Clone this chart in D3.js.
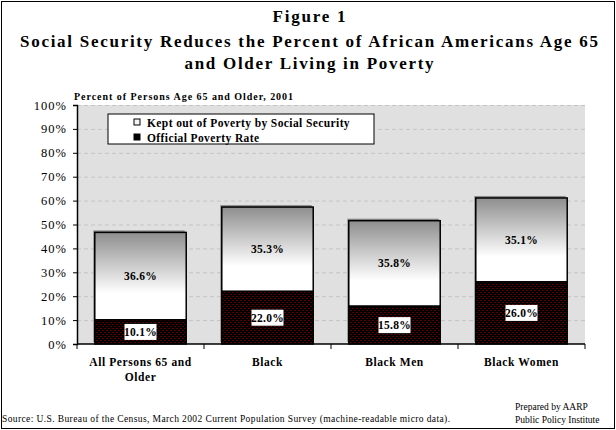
<!DOCTYPE html>
<html>
<head>
<meta charset="utf-8">
<script src="https://cdn.jsdelivr.net/npm/d3@7"></script>
<style>
  body { margin: 0; background: #fff; }
  svg text { font-family: "Liberation Serif", "DejaVu Serif", serif; }
</style>
</head>
<body>
<div id="chart"></div>
<script>
const categories = ['All Persons 65 and Older', 'Black', 'Black Men', 'Black Women']
const categoryLines = [['All Persons 65 and', 'Older'], ['Black'], ['Black Men'], ['Black Women']]
const povertyRate = [10.1, 22.0, 15.8, 26.0]
const keptOut = [36.6, 35.3, 35.8, 35.1]
const yTicks = [0, 10, 20, 30, 40, 50, 60, 70, 80, 90, 100]
const seriesNames = ['Kept out of Poverty by Social Security', 'Official Poverty Rate']

const width = 616, height = 430
const margin = {top: 105, right: 31, bottom: 86, left: 77}

const svg = d3.select('#chart').append('svg')
    .attr('width', width)
    .attr('height', height)

const defs = svg.append('defs')
const grad = defs.append('linearGradient')
    .attr('id', 'keptGrad')
    .attr('x1', 0).attr('y1', 0).attr('x2', 0).attr('y2', 1)
grad.append('stop').attr('offset', '0%').attr('stop-color', '#8e8e8e')
grad.append('stop').attr('offset', '70%').attr('stop-color', '#ffffff')
grad.append('stop').attr('offset', '100%').attr('stop-color', '#ffffff')

const pat = defs.append('pattern')
    .attr('id', 'povPat')
    .attr('patternUnits', 'userSpaceOnUse')
    .attr('width', 4).attr('height', 4)
pat.append('rect').attr('width', 4).attr('height', 4).attr('fill', '#000')
pat.append('rect').attr('x', 0).attr('y', 0).attr('width', 2).attr('height', 1).attr('fill', '#5c0000')
pat.append('rect').attr('x', 2).attr('y', 2).attr('width', 2).attr('height', 1).attr('fill', '#5c0000')

// outer frame
svg.append('rect')
    .attr('x', 1.5).attr('y', 1.5)
    .attr('width', width - 3).attr('height', height - 3)
    .attr('fill', '#fff').attr('stroke', '#000').attr('stroke-width', 1)

// titles
const titleLines = [
    {text: 'Figure 1', y: 22, len: 73},
    {text: 'Social Security Reduces the Percent of African Americans Age 65', y: 47, len: 578},
    {text: 'and Older Living in Poverty', y: 69, len: 249},
]
svg.selectAll('.title').data(titleLines).enter().append('text')
    .attr('class', 'title')
    .attr('x', 309).attr('y', d => d.y)
    .attr('text-anchor', 'middle')
    .attr('font-size', 17).attr('font-weight', 'bold')
    .attr('textLength', d => d.len).attr('lengthAdjust', 'spacing')
    .text(d => d.text)

svg.append('text')
    .attr('x', 74).attr('y', 100)
    .attr('font-size', 10).attr('font-weight', 'bold')
    .attr('textLength', 219).attr('lengthAdjust', 'spacing')
    .text('Percent of Persons Age 65 and Older, 2001')

const plotW = width - margin.left - margin.right
const plotH = height - margin.top - margin.bottom

const x = d3.scaleBand()
    .domain(categories)
    .range([margin.left, margin.left + plotW])
    .paddingInner(0.28)
    .paddingOuter(0.14)
const y = d3.scaleLinear()
    .domain([0, 100])
    .range([margin.top + plotH, margin.top])

svg.append('rect')
    .attr('x', margin.left).attr('y', margin.top)
    .attr('width', plotW).attr('height', plotH)
    .attr('fill', '#e0e0e0')

// dashed gridlines
svg.append('g').selectAll('line').data(yTicks.slice(1)).enter().append('line')
    .attr('x1', margin.left).attr('x2', margin.left + plotW)
    .attr('y1', d => y(d) + 0.5).attr('y2', d => y(d) + 0.5)
    .attr('stroke', '#c4c4c4').attr('stroke-dasharray', '4,3')

// y axis
const yAxis = d3.axisLeft(y)
    .tickValues(yTicks)
    .tickFormat(d => `${d}%`)
    .tickSize(4)
    .tickPadding(6)
svg.append('g')
    .attr('transform', `translate(${margin.left},0)`)
    .call(yAxis)
    .call(g => g.select('.domain').attr('stroke', '#000').attr('stroke-width', 1.5))
    .call(g => g.selectAll('.tick line').attr('stroke', '#000'))
    .call(g => g.selectAll('.tick text')
        .attr('font-family', '"Liberation Serif", serif')
        .attr('font-size', 12.5)
        .attr('letter-spacing', 1)
        .attr('fill', '#000'))

// x axis: ticks sit on category boundaries
const boundaries = d3.range(categories.length + 1).map(i => margin.left + i * x.step())
const xAxisG = svg.append('g')
xAxisG.append('line')
    .attr('x1', margin.left).attr('x2', margin.left + plotW)
    .attr('y1', y(0)).attr('y2', y(0))
    .attr('stroke', '#000').attr('stroke-width', 1.5)
xAxisG.selectAll('.xtick').data(boundaries).enter().append('line')
    .attr('x1', d => d).attr('x2', d => d)
    .attr('y1', y(0)).attr('y2', y(0) + 5)
    .attr('stroke', '#000')
xAxisG.selectAll('.xlab').data(categories).enter().append('text')
    .attr('x', d => x(d) + x.bandwidth() / 2)
    .attr('y', y(0) + 22)
    .attr('text-anchor', 'middle')
    .attr('font-size', 11.5).attr('font-weight', 'bold')
    .attr('letter-spacing', 0.6)
    .selectAll('tspan').data((d, i) => categoryLines[i]).enter().append('tspan')
    .attr('x', function () { return this.parentNode.getAttribute('x') })
    .attr('dy', (d, i) => i === 0 ? 0 : 15)
    .text(d => d)

// bars
const rows = categories.map((c, i) => ({cat: c, pov: povertyRate[i], kept: keptOut[i]}))
const bars = svg.append('g').selectAll('.bar').data(rows).enter().append('g')
    .attr('class', 'bar')

bars.append('rect')
    .attr('x', d => x(d.cat) - 1.5)
    .attr('y', d => y(d.pov + d.kept) - 2)
    .attr('width', x.bandwidth())
    .attr('height', d => y(0) - y(d.pov + d.kept))
    .attr('fill', '#8a8a8a')
bars.append('rect')
    .attr('x', d => x(d.cat))
    .attr('y', d => y(d.pov + d.kept))
    .attr('width', x.bandwidth())
    .attr('height', d => y(d.pov) - y(d.pov + d.kept))
    .attr('fill', 'url(#keptGrad)')
    .attr('stroke', '#000').attr('stroke-width', 1.5)
bars.append('rect')
    .attr('x', d => x(d.cat))
    .attr('y', d => y(d.pov))
    .attr('width', x.bandwidth())
    .attr('height', d => y(0) - y(d.pov))
    .attr('fill', 'url(#povPat)')
    .attr('stroke', '#000').attr('stroke-width', 1.5)

// value labels
bars.append('text')
    .attr('x', d => x(d.cat) + x.bandwidth() / 2)
    .attr('y', d => (y(d.pov + d.kept) + y(d.pov)) / 2 + 4)
    .attr('text-anchor', 'middle')
    .attr('font-size', 11.5).attr('font-weight', 'bold')
    .attr('letter-spacing', 0.3)
    .text(d => `${d.kept.toFixed(1)}%`)
bars.append('rect')
    .attr('x', d => x(d.cat) + x.bandwidth() / 2 - 16)
    .attr('y', d => (y(d.pov) + y(0)) / 2 - 8)
    .attr('width', 32).attr('height', 16)
    .attr('fill', '#fff')
bars.append('text')
    .attr('x', d => x(d.cat) + x.bandwidth() / 2)
    .attr('y', d => (y(d.pov) + y(0)) / 2 + 4)
    .attr('text-anchor', 'middle')
    .attr('font-size', 11.5).attr('font-weight', 'bold')
    .attr('letter-spacing', 0.3)
    .text(d => `${d.pov.toFixed(1)}%`)

// legend
const legend = svg.append('g').attr('transform', 'translate(108,114)')
legend.append('rect')
    .attr('width', 266).attr('height', 30)
    .attr('fill', '#fff').attr('stroke', '#000').attr('stroke-width', 1)
const legendFills = ['#f4f4f4', '#000']
const items = legend.selectAll('.item').data(seriesNames).enter().append('g')
    .attr('transform', (d, i) => `translate(26,${5 + i * 15})`)
items.append('rect')
    .attr('width', 6).attr('height', 6)
    .attr('fill', (d, i) => legendFills[i])
    .attr('stroke', '#000')
items.append('text')
    .attr('x', 13).attr('y', 7.5)
    .attr('font-size', 11.5).attr('font-weight', 'bold')
    .attr('letter-spacing', 0.4)
    .text(d => d)

// footer
svg.append('text')
    .attr('x', 2).attr('y', 422)
    .attr('font-size', 9.5)
    .attr('textLength', 448).attr('lengthAdjust', 'spacing')
    .text('Source: U.S. Bureau of the Census, March 2002 Current Population Survey (machine-readable micro data).')
svg.append('text')
    .attr('x', 515).attr('y', 410)
    .attr('font-size', 9.5)
    .text('Prepared by AARP')
svg.append('text')
    .attr('x', 515).attr('y', 423)
    .attr('font-size', 9.5)
    .text('Public Policy Institute')
</script>
</body>
</html>
